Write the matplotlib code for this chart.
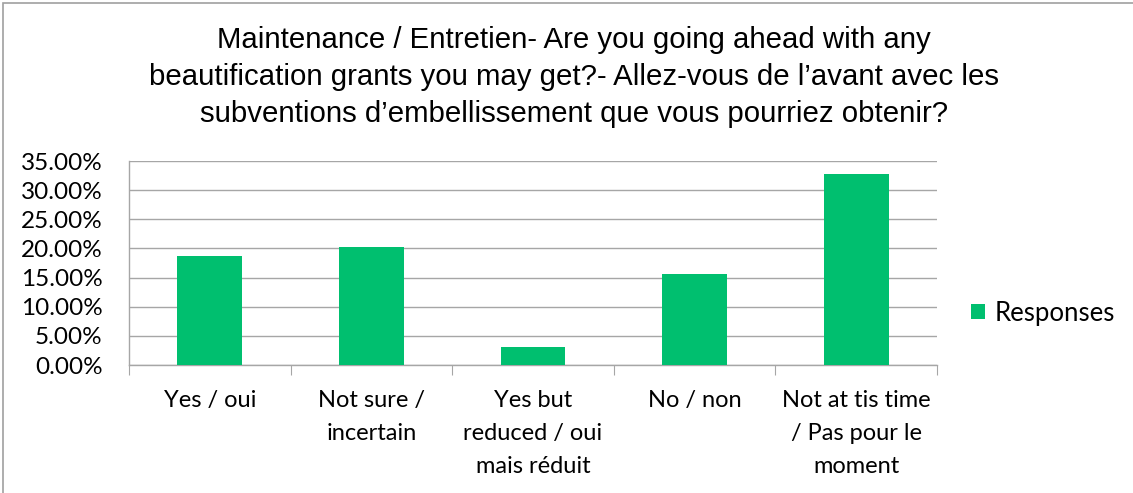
import matplotlib.pyplot as plt
from matplotlib.ticker import FuncFormatter
from matplotlib.patches import Rectangle

categories = ["Yes / oui", "Not sure /\nincertain", "Yes but\nreduced / oui\nmais réduit",
              "No / non", "Not at tis time\n/ Pas pour le\nmoment"]
responses = [18.75, 20.31, 3.13, 15.63, 32.81]
yticks = [0, 5, 10, 15, 20, 25, 30, 35]
title = ("Maintenance / Entretien- Are you going ahead with any\n"
         "beautification grants you may get?- Allez-vous de l\u2019avant avec les\n"
         "subventions d\u2019embellissement que vous pourriez obtenir?")

fig = plt.figure(figsize=(11.33, 4.93), dpi=100)
ax = fig.add_axes([129/1133, 1-365/493, (937-129)/1133, (365-161)/493])

grid_c = "#a6a6a6"
x = range(len(categories))
ax.bar(x, responses, width=0.4, color="#00BF6F", label="Responses", zorder=3)
ax.set_xlim(-0.5, len(categories)-0.5)
ax.set_ylim(0, 35)
ax.set_yticks(yticks)
ax.yaxis.set_major_formatter(FuncFormatter(lambda v, p: "%.2f%%" % v))
ax.grid(axis="y", color=grid_c, linewidth=1, zorder=0)

for s in ["top", "right"]:
    ax.spines[s].set_visible(False)
for s in ["left", "bottom"]:
    ax.spines[s].set_color(grid_c)
    ax.spines[s].set_linewidth(1)

ax.set_xticks([i - 0.5 for i in range(len(categories)+1)], minor=False)
ax.set_xticklabels([])
ax.set_xticks(list(x), minor=True)
ax.set_xticklabels(categories, minor=True, fontsize=17, family="Lato", linespacing=1.7, va="top")
ax.tick_params(axis="x", which="major", length=7, color=grid_c, direction="out")
ax.tick_params(axis="x", which="minor", length=0, pad=18)
ax.tick_params(axis="y", length=0, labelsize=17.5, pad=19)
for lab in ax.get_yticklabels():
    lab.set_family("Lato")

fig.text(574/1133, 1-77/493, title, ha="center", va="center", fontsize=21.2,
         family="Liberation Sans", linespacing=1.4)

leg = fig.legend(loc="center left", bbox_to_anchor=(948/1133, 1-313/493), frameon=False,
                 prop={"family": "Lato", "size": 18.5}, handlelength=0.55, handleheight=0.55,
                 handletextpad=0.35)

fig.patches.append(Rectangle((3/1133, -0.1), 1.2, 1.1-3/493, transform=fig.transFigure,
                             fill=False, edgecolor="#a0a0a0", linewidth=1.2))

fig.savefig("out.png", dpi=100)
